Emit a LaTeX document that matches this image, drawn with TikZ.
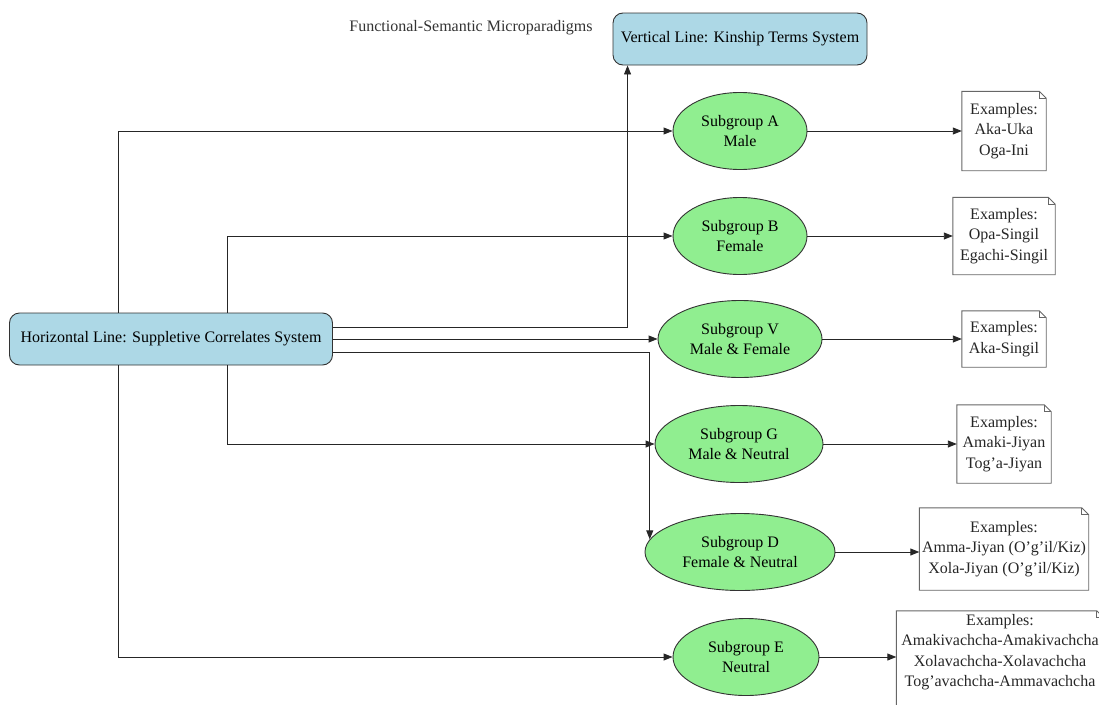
\documentclass[tikz,border=0pt]{standalone}
\usepackage{fontspec}
\setmainfont{Liberation Serif}
\usetikzlibrary{shapes.geometric,arrows.meta}
\definecolor{lblue}{HTML}{ADD8E6}
\definecolor{lgreen}{HTML}{90EE90}
\begin{document}
\begin{tikzpicture}[x=1pt,y=-1pt,
  font=\fontsize{16}{20.5}\selectfont,
  sysbox/.style={draw=black!80, fill=lblue, rounded corners=10pt, line width=0.9pt, minimum height=52pt, inner xsep=6pt},
  subell/.style={ellipse, draw=black!80, fill=lgreen, line width=0.9pt, align=center, minimum height=77pt, inner sep=0pt},
  notebox/.style={align=center, inner sep=0pt, text=black!85},
  noteline/.style={draw=black!60, line width=0.9pt},
  conn/.style={draw=black!85, line width=0.9pt, -{Triangle[length=9pt,width=7pt]}},
]
\useasboundingbox (0,0) rectangle (1099,704);

% system nodes
\node[sysbox, minimum width=323pt] (H) at (171,339) {Horizontal Line: Suppletive Correlates System};
\node[sysbox, minimum width=254pt] (Vt) at (740,39) {Vertical Line: Kinship Terms System};
\node[text=black!80] (T) at (471,28) {Functional-Semantic Microparadigms};

% subgroups
\node[subell, minimum width=134pt] (A) at (740,131) {Subgroup A\\Male};
\node[subell, minimum width=134pt] (B) at (740,236) {Subgroup B\\Female};
\node[subell, minimum width=164pt] (V) at (740,339) {Subgroup V\\Male \& Female};
\node[subell, minimum width=168pt] (G) at (739,444) {Subgroup G\\Male \& Neutral};
\node[subell, minimum width=190pt] (D) at (740,552) {Subgroup D\\Female \& Neutral};
\node[subell, minimum width=146pt] (E) at (746,657) {Subgroup E\\Neutral};

% example notes
\node[notebox, minimum width=84pt, minimum height=79pt] (xA) at (1004,131) {Examples:\\Aka-Uka\\Oga-Ini};
\node[notebox, minimum width=102pt, minimum height=77pt] (xB) at (1004,236) {Examples:\\Opa-Singil\\Egachi-Singil};
\node[notebox, minimum width=84pt, minimum height=56pt] (xV) at (1004,339) {Examples:\\Aka-Singil};
\node[notebox, minimum width=94pt, minimum height=78pt] (xG) at (1004,444) {Examples:\\Amaki-Jiyan\\Tog'a-Jiyan};
\node[notebox, minimum width=169pt, minimum height=82pt] (xD) at (1004,549) {Examples:\\Amma-Jiyan (O'g'il/Kiz)\\Xola-Jiyan (O'g'il/Kiz)};
\node[notebox, minimum width=207pt, minimum height=82pt] (xE) at (1000,652) {Examples:\\Amakivachcha-Amakivachcha\\Xolavachcha-Xolavachcha\\Tog'avachcha-Ammavachcha};

\foreach \n in {xA,xB,xV,xG,xD}{
  \draw[noteline] (\n.south west) -- (\n.north west) -- ([xshift=-7pt]\n.north east) -- ([yshift=-7pt]\n.north east) -- (\n.south east) -- cycle;
  \draw[noteline] ([xshift=-7pt]\n.north east) -- ([xshift=-7pt,yshift=-7pt]\n.north east) -- ([yshift=-7pt]\n.north east);
}
% last note runs past the bottom and right edges
\draw[noteline] ([yshift=-30pt]xE.south west) -- (xE.north west) -- ([xshift=-7pt]xE.north east) -- ([yshift=-7pt]xE.north east) -- ([yshift=-30pt]xE.south east);
\draw[noteline] ([xshift=-7pt]xE.north east) -- ([xshift=-7pt,yshift=-7pt]xE.north east) -- ([yshift=-7pt]xE.north east);

% connectors from horizontal system
\draw[conn] ([xshift=-53pt]H.north) |- (A.west);
\draw[conn] ([xshift=56pt]H.north) |- (B.west);
\draw[conn] ([yshift=12pt]H.east) -| ([xshift=15pt]Vt.south west);
\draw[conn] (H.east) -- (V.west);
\draw[conn] ([yshift=-13pt]H.east) -| (D.172);
\draw[conn] ([xshift=56pt]H.south) |- (G.west);
\draw[conn] ([xshift=-53pt]H.south) |- (E.west);

% connectors to examples
\draw[conn] (A.east) -- (A.east -| xA.west);
\draw[conn] (B.east) -- (B.east -| xB.west);
\draw[conn] (V.east) -- (V.east -| xV.west);
\draw[conn] (G.east) -- (G.east -| xG.west);
\draw[conn] (D.east) -- (D.east -| xD.west);
\draw[conn] (E.east) -- (E.east -| xE.west);
\end{tikzpicture}
\end{document}
